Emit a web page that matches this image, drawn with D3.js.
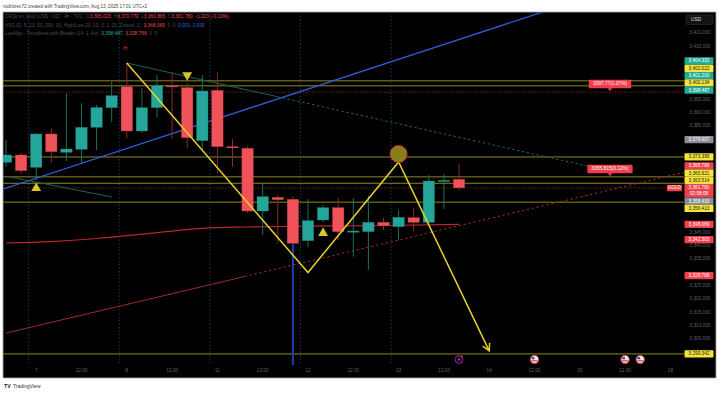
<!DOCTYPE html>
<html><head><meta charset="utf-8">
<script src="https://cdn.jsdelivr.net/npm/d3@7"></script>
<style>html,body{margin:0;padding:0;background:#fff;overflow:hidden}svg{display:block;font-family:"Liberation Sans",Arial,sans-serif}</style>
</head><body><svg id="c" width="720" height="393"></svg>
<script>
// ---------------- DATA ----------------
const opens  = [3371.39,3374.14,3369.51,3382.03,3375.15,3376.28,3384.55,3391.92,3399.81,3383.16,3391.92,3400.19,3399.44,3379.51,3398.46,3377.26,3376.65,3353.08,3358.23,3357.48,3341.92,3349.70,3354.32,3345.30,3345.30,3348.83,3347.18,3350.56,3348.83,3364.36,3365.023];
const highs  = [3379.77,3374.89,3382.41,3384.17,3397.33,3393.57,3392.93,3401.69,3408.72,3399.32,3404.21,3405.45,3401.20,3404.21,3405.08,3380.15,3377.52,3363.72,3359.10,3358.72,3357.59,3355.34,3357.97,3357.97,3358.83,3350.45,3353.46,3354.21,3366.62,3366.99,3370.770];
const lows   = [3369.62,3366.88,3364.74,3371.24,3371.88,3371.24,3376.02,3386.65,3380.53,3382.41,3388.16,3380.15,3376.77,3376.02,3367.37,3369.62,3352.33,3344.06,3340.94,3340.68,3339.55,3348.95,3342.18,3335.90,3330.90,3345.94,3342.18,3345.30,3347.82,3353.83,3360.865];
const closes = [3374.14,3368.23,3382.03,3375.38,3376.39,3384.55,3391.99,3396.43,3383.16,3391.92,3400.19,3399.89,3380.64,3398.20,3377.26,3376.95,3353.08,3358.46,3357.33,3340.94,3349.44,3354.32,3345.30,3345.56,3348.83,3347.56,3350.71,3348.83,3364.36,3364.62,3361.780];

const timeTickIdx    = [2,5,8,11,14,17,20,23,26,29,32,35,38,41,44];
const timeTickLabels = ["7","12:00","8","12:00","11","12:00","12","12:00","13","12:00","14","12:00","15","12:00","18"];
const sessionBreaks  = [1.5,7.5,13.5,19.5,25.5];

const levelPrices = [3402.022,3400.134,3373.395,3365.921,3363.514,3356.413,3299.342];
const dottedRedPrices = [3397.77,3361.780];

const zigzagIdx   = [8,20,26,32];
const zigzagPrice = [3408.72,3329.96,3371.5,3300.5];

const maIdx   = [0,3,6,9,13,16,20,25,30];
const maPrice = [3341.05,3341.6,3342.74,3344.4,3346.58,3347.07,3347.37,3347.63,3348.07];

const blueTrendIdx = [0,16], blueTrendPrice = [3361.7,3391.5];
const luxUpIdx = [8,18,38.7], luxUpPrice = [3408.72,3396.02,3369.74];
const luxUpOldIdx = [0,7], luxUpOldPrice = [3366.2,3358.35];
const luxDnIdx = [0,15.8,44.9], luxDnPrice = [3307.2,3328.45,3367.6];

const triUpIdx = [2,21], triUpPrice = [3361.7,3344.8];
const triDnIdx = [12], triDnPrice = [3404.2];
const circleIdx = 26, circlePrice = 3374.5;
const blueVIdx = 19, blueVPrice = 3340.9;
const highMarkIdx = 8, highMarkPrice = 3414.2;

const noteIdx   = [40,40];
const notePrice = [3397.77,3365.815];
const noteText  = ["3397.77(1.07%)","3365.815(0.12%)"];

const axisLabelValues = [3404.332,3402.022,3401.200,3400.134,3398.487,3379.907,3373.395,3368.796,3365.921,3363.514,3361.780,3358.433,3356.413,3348.069,3342.303,3328.768,3299.342];
const axisLabelKinds  = ["teal","yellow","teal","yellow","teal","gray","yellow","red","yellow","yellow","current","gray","yellow","red","red","red","yellow"];
const countdown = "02:58:08";

const eventIdx  = [30,35,41,42];
const eventKind = ["bolt","us","us","us"];

// ---------------- LAYOUT ----------------
const svg = d3.select("#c");
const PL=3, PR=684, PT=12, PB=365, FR=716, FB=378;
const x = d3.scaleLinear().domain([0,44]).range([6,670.4]);
const y = d3.scaleLinear().domain([3300,3420]).range([352.2,33]);
const fmt = d3.format(",.3f");

svg.append("rect").attr("width",720).attr("height",393).attr("fill","#fff");
svg.append("text").attr("x",3).attr("y",8).attr("font-size",4.6).attr("fill","#444")
  .text("nickforex72 created with TradingView.com, Aug 13, 2025 17:01 UTC+2");
svg.append("rect").attr("x",PL).attr("y",PT).attr("width",FR-PL).attr("height",FB-PT)
  .attr("fill","#000").attr("stroke","#a8a8a8").attr("stroke-width",0.8);

const defs = svg.append("defs");
defs.append("clipPath").attr("id","plot").append("rect").attr("x",PL).attr("y",PT).attr("width",PR-PL).attr("height",PB-PT);
const g = svg.append("g").attr("clip-path","url(#plot)");

// session breaks
g.selectAll(".sb").data(sessionBreaks).join("line")
  .attr("x1",d=>x(d)).attr("x2",d=>x(d)).attr("y1",PT).attr("y2",PB+12)
  .attr("stroke","#1f3c70").attr("stroke-width",1).attr("stroke-dasharray","1.3,2.2");

// yellow levels
g.selectAll(".lv").data(levelPrices).join("line")
  .attr("x1",PL).attr("x2",PR).attr("y1",d=>y(d)).attr("y2",d=>y(d))
  .attr("stroke","#8f861b").attr("stroke-width",1);
// dotted red
g.selectAll(".dr").data(dottedRedPrices).join("line")
  .attr("x1",PL).attr("x2",PR).attr("y1",d=>y(d)).attr("y2",d=>y(d))
  .attr("stroke","#7a1e26").attr("stroke-width",0.9).attr("stroke-dasharray","1.5,1.5");

// MA curve
const ma = maIdx.map((d,i)=>[d,maPrice[i]]);
g.append("path").datum(ma).attr("fill","none").attr("stroke","#b8262f").attr("stroke-width",1.2)
  .attr("d",d3.line().x(d=>x(d[0])).y(d=>y(d[1])).curve(d3.curveMonotoneX));

// Lux lines
function seg(ix,pr,i0,i1,color,dash,w){
  g.append("line").attr("x1",x(ix[i0])).attr("y1",y(pr[i0])).attr("x2",x(ix[i1])).attr("y2",y(pr[i1]))
   .attr("stroke",color).attr("stroke-width",w||1).attr("stroke-dasharray",dash||null);
}
seg(luxDnIdx,luxDnPrice,0,1,"#9e2a30");
seg(luxDnIdx,luxDnPrice,1,2,"#9e2a30","2.5,2.5");
seg(luxUpIdx,luxUpPrice,0,1,"#17665a");
seg(luxUpIdx,luxUpPrice,1,2,"#17665a","2.5,2.5");
seg(luxUpOldIdx,luxUpOldPrice,0,1,"#17665a");

// blue trendline extended
{
  const s=(blueTrendPrice[1]-blueTrendPrice[0])/(blueTrendIdx[1]-blueTrendIdx[0]);
  const i0=-1, i1=50;
  g.append("line").attr("x1",x(i0)).attr("y1",y(blueTrendPrice[0]+s*(i0-blueTrendIdx[0])))
    .attr("x2",x(i1)).attr("y2",y(blueTrendPrice[0]+s*(i1-blueTrendIdx[0])))
    .attr("stroke","#2b5cd6").attr("stroke-width",1.3);
}

// candles
const candles = opens.map((o,i)=>({i,o,h:highs[i],l:lows[i],c:closes[i]}));
const bw = 11.4;
g.selectAll(".wk").data(candles).join("line")
  .attr("x1",d=>x(d.i)).attr("x2",d=>x(d.i)).attr("y1",d=>y(d.h)).attr("y2",d=>y(d.l))
  .attr("stroke",d=>d.c>=d.o?"#1c6e63":"#8a2a31").attr("stroke-width",1);
g.selectAll(".bd").data(candles).join("rect")
  .attr("x",d=>x(d.i)-bw/2).attr("width",bw)
  .attr("y",d=>y(Math.max(d.o,d.c))).attr("height",d=>Math.max(1.2,Math.abs(y(d.o)-y(d.c))))
  .attr("fill",d=>d.c>=d.o?"#26a69a":"#f0525a")
  .attr("stroke",d=>d.c>=d.o?"#1d7d73":"#b83a40").attr("stroke-width",0.4);

// blue vertical
g.append("line").attr("x1",x(blueVIdx)).attr("x2",x(blueVIdx)).attr("y1",y(blueVPrice)).attr("y2",PB)
  .attr("stroke","#1f3fa6").attr("stroke-width",2);

// zigzag
const zz = zigzagIdx.map((d,i)=>[x(d),y(zigzagPrice[i])]);
g.append("path").attr("d",d3.line()(zz)).attr("fill","none").attr("stroke","#e6d22b").attr("stroke-width",1.5);
{
  const a=zz[zz.length-2], b=zz[zz.length-1];
  const ang=Math.atan2(b[1]-a[1],b[0]-a[0]), L=8;
  const p1=[b[0]-L*Math.cos(ang-0.5),b[1]-L*Math.sin(ang-0.5)];
  const p2=[b[0]-L*Math.cos(ang+0.5),b[1]-L*Math.sin(ang+0.5)];
  g.append("path").attr("d",d3.line()([p1,b,p2])).attr("fill","none").attr("stroke","#e6d22b").attr("stroke-width",1.5);
}
// circle
g.append("circle").attr("cx",x(circleIdx)).attr("cy",y(circlePrice)).attr("r",8.5)
  .attr("fill","#857f1e").attr("stroke","#c4313a").attr("stroke-width",1);

// triangles
const tri = d3.symbol().type(d3.symbolTriangle).size(42);
g.selectAll(".tu").data(triUpIdx).join("path").attr("d",tri)
  .attr("transform",(d,i)=>`translate(${x(d)},${y(triUpPrice[i])})`).attr("fill","#d8c62c");
g.selectAll(".td").data(triDnIdx).join("path").attr("d",tri)
  .attr("transform",(d,i)=>`translate(${x(d)},${y(triDnPrice[i])}) rotate(180)`).attr("fill","#d8c62c");
g.append("text").attr("x",x(highMarkIdx)-1.5).attr("y",y(highMarkPrice)).attr("font-size",5.5)
  .attr("fill","#e0393f").attr("text-anchor","middle").attr("dominant-baseline","middle").text("H");

// note labels
noteIdx.forEach((ix,k)=>{
  const cx=x(ix), py=y(notePrice[k]);
  const w=noteText[k].length*2.75+4, h=8.5, top=py-4-h;
  g.append("rect").attr("x",cx-w/2).attr("y",top).attr("width",w).attr("height",h).attr("rx",1).attr("fill","#f23e4c");
  g.append("path").attr("d",`M${cx-2.5},${top+h}L${cx+2.5},${top+h}L${cx},${top+h+2.8}Z`).attr("fill","#f23e4c");
  g.append("text").attr("x",cx).attr("y",top+h/2+0.3).attr("font-size",4.8).attr("fill","#fff")
   .attr("text-anchor","middle").attr("dominant-baseline","middle").text(noteText[k]);
});

// GOLD tag
{
  const gy=y(closes[closes.length-1]);
  svg.append("rect").attr("x",667).attr("y",gy-3).attr("width",15).attr("height",6.4).attr("fill","#f0414e");
  svg.append("text").attr("x",674.5).attr("y",gy+0.4).attr("font-size",4.6).attr("fill","#fff")
    .attr("text-anchor","middle").attr("dominant-baseline","middle").text("GOLD");
}

// ---------------- PRICE AXIS ----------------
const LH=7.3, curV=axisLabelValues[axisLabelKinds.indexOf("current")];
const labs = axisLabelValues.map((v,i)=>({v,k:axisLabelKinds[i],y:y(v)}));
const cur = labs.find(d=>d.k==="current");
cur.top=cur.y-3.8; cur.bot=cur.y+9.6;
let lim=cur.top;
labs.filter(d=>d.k!=="current"&&d.v>curV).sort((a,b)=>b.y-a.y).forEach(d=>{
  d.y=Math.min(d.y,lim-LH/2); d.top=d.y-LH/2; d.bot=d.y+LH/2; lim=d.top;});
lim=cur.bot;
labs.filter(d=>d.k!=="current"&&d.v<curV).sort((a,b)=>a.y-b.y).forEach(d=>{
  d.y=Math.max(d.y,lim+LH/2); d.top=d.y-LH/2; d.bot=d.y+LH/2; lim=d.bot;});

const ticks = d3.range(3305,3421,5);
svg.selectAll(".pt").data(ticks.filter(t=>!labs.some(l=>y(t)>l.top-2.2&&y(t)<l.bot+2.2))).join("text")
  .attr("x",700).attr("y",d=>y(d)).attr("font-size",4.7).attr("fill","#5f626c")
  .attr("text-anchor","middle").attr("dominant-baseline","middle").text(d=>fmt(d));

const kc = {teal:["#22ab94","#fff"],yellow:["#f4e43b","#222"],gray:["#8a8d96","#fff"],red:["#f0414e","#fff"],current:["#f0414e","#fff"]};
labs.forEach(d=>{
  svg.append("rect").attr("x",684.5).attr("y",d.top).attr("width",29).attr("height",d.bot-d.top)
    .attr("rx",0.8).attr("fill",kc[d.k][0]);
  svg.append("text").attr("x",699).attr("y",d.k==="current"?d.top+3.9:d.y+0.2).attr("font-size",4.7)
    .attr("fill",kc[d.k][1]).attr("text-anchor","middle").attr("dominant-baseline","middle").text(fmt(d.v));
  if(d.k==="current") svg.append("text").attr("x",699).attr("y",d.top+9.9).attr("font-size",4.7)
    .attr("fill","#fff").attr("text-anchor","middle").attr("dominant-baseline","middle").text(countdown);
});
// USD box
svg.append("rect").attr("x",686).attr("y",15).attr("width",27).attr("height",9.5).attr("rx",1.5)
  .attr("fill","#131313").attr("stroke","#333").attr("stroke-width",0.6);
svg.append("text").attr("x",691).attr("y",20).attr("font-size",4.8).attr("fill","#ddd")
  .attr("dominant-baseline","middle").text("USD");

// ---------------- TIME AXIS ----------------
svg.selectAll(".tt").data(timeTickIdx).join("text")
  .attr("x",d=>x(d)).attr("y",370.8).attr("font-size",4.7).attr("fill","#5f626c")
  .attr("text-anchor","middle").attr("dominant-baseline","middle").text((d,i)=>timeTickLabels[i]);

eventIdx.forEach((ix,k)=>{
  const cx=x(ix), cy=359.5;
  if(eventKind[k]==="bolt"){
    svg.append("circle").attr("cx",cx).attr("cy",cy).attr("r",4).attr("fill","#1a0a22").attr("stroke","#8e2ea8").attr("stroke-width",0.9);
    svg.append("path").attr("d",`M${cx+0.8},${cy-2.6}L${cx-1.4},${cy+0.3}L${cx+0.2},${cy+0.3}L${cx-0.8},${cy+2.6}L${cx+1.6},${cy-0.6}L${cx},${cy-0.6}Z`).attr("fill","#a446c4");
    svg.append("circle").attr("cx",cx+3).attr("cy",cy-3).attr("r",0.9).attr("fill","#f0414e");
  } else {
    svg.append("circle").attr("cx",cx).attr("cy",cy).attr("r",4.2).attr("fill","#f3f3f3").attr("stroke","#c8323c").attr("stroke-width",1);
    svg.append("rect").attr("x",cx-3).attr("y",cy-2.6).attr("width",3).attr("height",2.4).attr("fill","#3b5bb0");
    svg.append("rect").attr("x",cx-3.2).attr("y",cy+0.4).attr("width",6.4).attr("height",0.9).attr("fill","#d64550");
    svg.append("rect").attr("x",cx-3).attr("y",cy+2).attr("width",6).attr("height",0.8).attr("fill","#d64550");
  }
});

// ---------------- LEGEND ----------------
const dim="#4b4e57", red="#ef4b55", blue="#2d62e0", teal="#22ab94";
const legend = [
  [["CFDs on Gold (US$ / OZ) · 4h · TVC  O",dim],[fmt(opens[30]),red],["  H",dim],[fmt(highs[30]),red],["  L",dim],[fmt(lows[30]),red],["  C",dim],[fmt(closes[30]),red],["  -1.223 (-0.10%)",red]],
  [["VSS (D, 5, 13, 50, 200, 10, High/Low 20, 10, 3, 1, 10, Dotted, 1)  ",dim],["3,348.069",red],["  0  0  ",dim],["0.000",blue],["  0.000",blue]],
  [["LuxAlgo - Trendlines with Breaks (14, 1, Atr)  ",dim],["3,398.487",teal],["  3,328.768",red],["  0  0",dim]]
];
const ly=[17.4,25.8,33.8];
legend.forEach((parts,r)=>{
  const t=svg.append("text").attr("x",5).attr("y",ly[r]).attr("font-size",4.8).attr("dominant-baseline","middle").attr("xml:space","preserve");
  parts.forEach(p=>t.append("tspan").attr("fill",p[1]).text(p[0]));
});

// ---------------- FOOTER ----------------
svg.append("text").attr("x",4).attr("y",388).attr("font-size",5.2).attr("font-weight","bold").attr("fill","#222").text("TV");
svg.append("text").attr("x",13).attr("y",388).attr("font-size",5).attr("fill","#333").text("TradingView");
</script></body></html>
